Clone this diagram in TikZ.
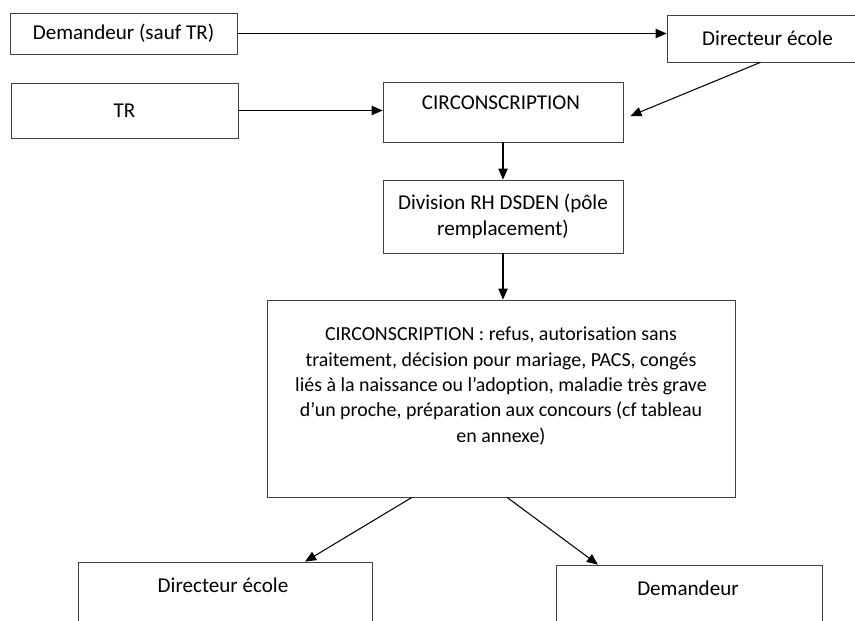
\documentclass[tikz,border=0pt]{standalone}
\usepackage{fontspec}
\setmainfont{Carlito}[Ligatures=NoCommon]
\usepackage{tikz}
\usetikzlibrary{arrows.meta,calc}

\begin{document}
\begin{tikzpicture}[x=0.03cm, y=-0.03cm, >={Triangle[length=9.5pt,width=8pt]}, line width=0.9pt,
        box/.style={draw=black!75, line width=0.6pt, inner sep=0pt},
        txt/.style={font=\fontsize{18}{22}\selectfont, align=center, inner sep=0pt},
        long/.style={txt, font=\fontsize{17}{21.7}\selectfont}]
        \useasboundingbox (0,0) rectangle (855,621);
        \clip (0,0) rectangle (855,621);
		\node[box, txt, minimum width=6.81cm, minimum height=1.23cm] (1) at (123.5, 33.5) {Demandeur (sauf TR)};
		\node[box, txt, minimum width=6.81cm, minimum height=1.65cm] (2) at (124.5, 110.5) {TR};
		\node[box, minimum width=7.2cm, minimum height=1.8cm] (3) at (503, 112) {};
		\node[txt] (3t) at (501, 103) {CIRCONSCRIPTION};
		\node[box, txt, minimum width=6.03cm, minimum height=1.41cm] (4) at (767.5, 38.5) {Directeur école};
		\node[box, txt, minimum width=7.2cm, minimum height=2.19cm] (5) at (503, 216.5) {Division RH DSDEN (pôle\\remplacement)};
		\node[box, minimum width=14.04cm, minimum height=5.91cm] (6) at (501, 398.5) {};
		\node[long] (6t) at (501, 386) {CIRCONSCRIPTION : refus, autorisation sans\\traitement, décision pour mariage, PACS, congés\\liés à la naissance ou l’adoption, maladie très grave\\d’un proche, préparation aux concours (cf tableau\\en annexe)};
		\node[box, minimum width=8.82cm, minimum height=3cm] (7) at (225, 612) {};
		\node[txt] (7t) at (223, 585) {Directeur école};
		\node[box, minimum width=7.98cm, minimum height=3cm] (8) at (689, 615) {};
		\node[txt] (8t) at (688, 588) {Demandeur};
		\draw[->] (1.east) to (1.east -| 4.west);
		\draw[->] (2.east) to (2.east -| 3.west);
		\draw[->] ($(4.south)+(-7,0)$) to ($(3.east)+(7,4)$);
		\draw[->] (3) to (5);
		\draw[->] (5.south) to (5.south |- 6.north);
		\draw[->] ($(6.south)+(-89,0)$) to ($(7.north)+(80,0)$);
		\draw[->] ($(6.south)+(6,0)$) to ($(8.north)+(-91,0)$);
    \end{tikzpicture}
\end{document}
